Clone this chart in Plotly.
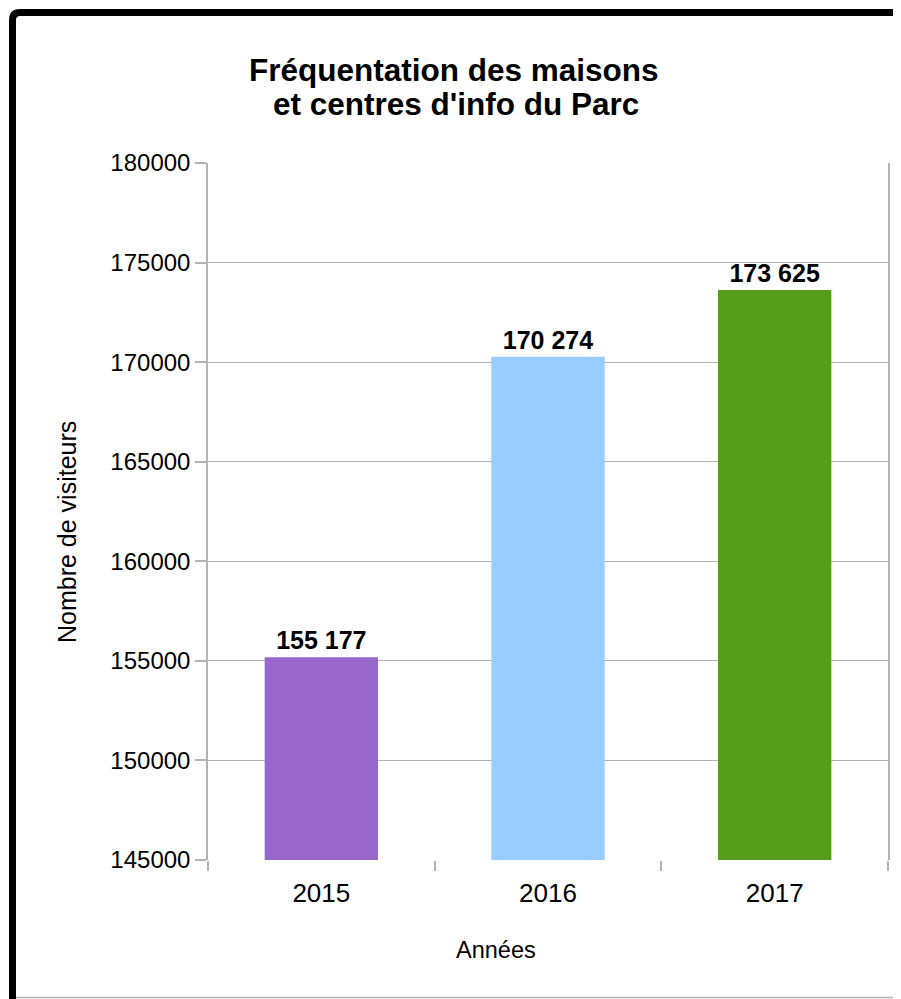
import plotly.graph_objects as go

# ---- data ----
years = ["2015", "2016", "2017"]
visitors = [155177, 170274, 173625]
bar_colors = ["#9966CC", "#99CCFF", "#579D1C"]
y_ticks = [145000, 150000, 155000, 160000, 165000, 170000, 175000, 180000]

title_line1 = "Fréquentation des maisons"
title_line2 = "et centres d'info du Parc"
x_title = "Années"
y_title = "Nombre de visiteurs"

labels = [f"{v:,}".replace(",", " ") for v in visitors]

# page body has an 8px margin -> figure drawn at (8, 8)
OFF = 8
W, H = 901 - OFF, 999 - OFF
PL, PR, PT, PB = 208, 888, 163, 860  # plot edges in screen px
ML, MR, MT, MB = PL - OFF, W - (PR - OFF), PT - OFF, H - (PB - OFF)
PW, PH = PR - PL, PB - PT


def px(x):
    return (x - PL) / PW


def py(y):
    return (PB - y) / PH


FONT = "Liberation Sans"
GRID = "#b3b3b3"

fig = go.Figure(
    go.Bar(
        x=years,
        y=visitors,
        marker=dict(color=bar_colors, line=dict(width=0)),
        text=labels,
        textposition="outside",
        textfont=dict(family=FONT, size=25, color="black", weight="bold"),
        cliponaxis=False,
        width=0.5,
    )
)

frame_path = (
    f"M {px(12.5)},{py(1010)} L {px(12.5)},{py(20)} "
    f"Q {px(12.5)},{py(12.5)} {px(20)},{py(12.5)} L {px(910)},{py(12.5)}"
)

fig.update_layout(
    width=W,
    height=H,
    margin=dict(l=ML, r=MR, t=MT, b=MB, autoexpand=False),
    paper_bgcolor="white",
    plot_bgcolor="white",
    showlegend=False,
    font=dict(family=FONT, size=24, color="black"),
    annotations=[
        dict(
            text=title_line1,
            x=px(454),
            y=py(70),
            xref="paper",
            yref="paper",
            xanchor="center",
            yanchor="middle",
            showarrow=False,
            font=dict(family=FONT, size=31.5, color="black", weight="bold"),
        ),
        dict(
            text=title_line2,
            x=px(456),
            y=py(104),
            xref="paper",
            yref="paper",
            xanchor="center",
            yanchor="middle",
            showarrow=False,
            font=dict(family=FONT, size=31.5, color="black", weight="bold"),
        ),
        dict(
            text=y_title,
            x=px(67),
            y=py(532),
            xref="paper",
            yref="paper",
            xanchor="center",
            yanchor="middle",
            textangle=-90,
            showarrow=False,
            font=dict(family=FONT, size=25, color="black"),
        ),
        dict(
            text=x_title,
            x=px(496),
            y=py(950),
            xref="paper",
            yref="paper",
            xanchor="center",
            yanchor="middle",
            showarrow=False,
            font=dict(family=FONT, size=23.5, color="black"),
        ),
    ],
    shapes=[
        dict(
            type="path",
            path=frame_path,
            xref="paper",
            yref="paper",
            line=dict(color="black", width=7),
            layer="above",
        ),
        dict(
            type="line",
            x0=px(16),
            x1=px(910),
            y0=py(997.5),
            y1=py(997.5),
            xref="paper",
            yref="paper",
            line=dict(color=GRID, width=1.5),
        ),
    ],
    bargap=0.5,
)

fig.update_xaxes(
    type="category",
    showgrid=False,
    showline=False,
    ticks="outside",
    tickson="boundaries",
    ticklen=10,
    tickcolor=GRID,
    tickwidth=1.5,
    ticklabelstandoff=15,
    tickfont=dict(family=FONT, size=26, color="black"),
    automargin=False,
)

fig.update_yaxes(
    range=[145000, 180000],
    tickvals=y_ticks,
    ticktext=[str(t) for t in y_ticks],
    showgrid=True,
    gridcolor=GRID,
    gridwidth=1,
    showline=True,
    linecolor=GRID,
    linewidth=1.5,
    mirror=True,
    ticks="outside",
    ticklen=11,
    tickcolor=GRID,
    tickwidth=1.5,
    tickfont=dict(family=FONT, size=24, color="black"),
    zeroline=False,
    automargin=False,
)

fig.write_html("out.html")
